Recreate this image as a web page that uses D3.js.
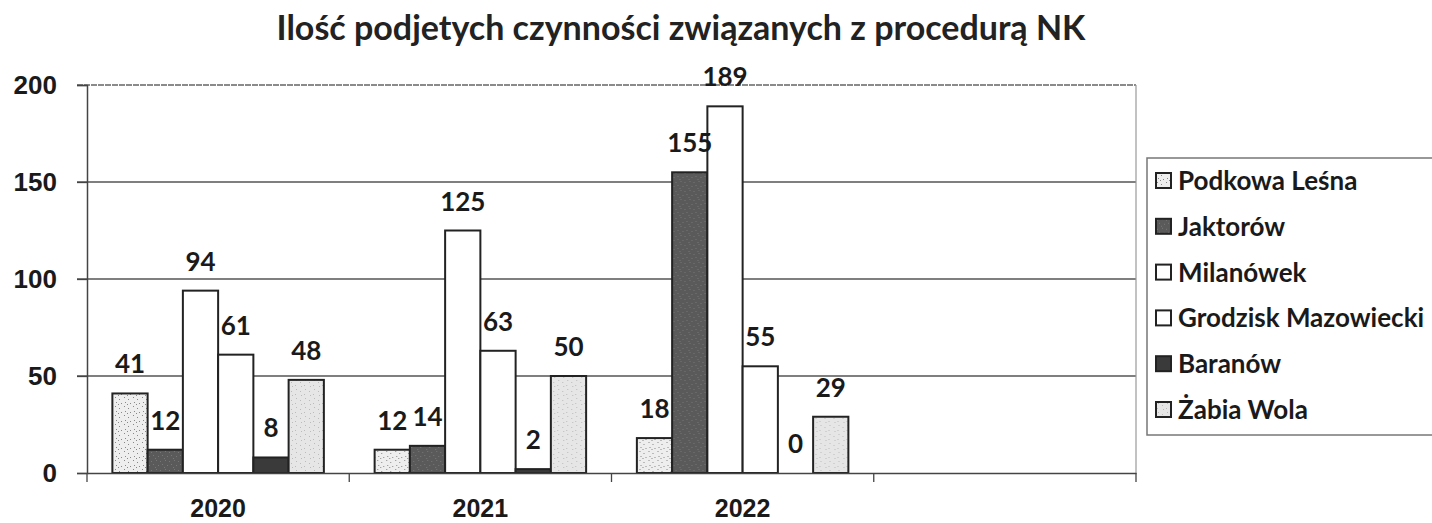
<!DOCTYPE html>
<html><head><meta charset="utf-8">
<script src="https://cdn.jsdelivr.net/npm/d3@7"></script>
<style>
html,body{margin:0;padding:0;background:#fff;}
svg{display:block;font-family:Lato,"Open Sans",sans-serif;}
</style></head>
<body><svg id="chart" width="1432" height="523"></svg>
<script>
const title = "Ilość podjetych czynności związanych z procedurą NK";
const categories = ["2020", "2021", "2022", ""];
const seriesNames = ["Podkowa Leśna", "Jaktorów", "Milanówek", "Grodzisk Mazowiecki", "Baranów", "Żabia Wola"];
const podkowaLesna = [41, 12, 18, null];
const jaktorow = [12, 14, 155, null];
const milanowek = [94, 125, 189, null];
const grodzisk = [61, 63, 55, null];
const baranow = [8, 2, 0, null];
const zabiaWola = [48, 50, 29, null];
const yTicks = [0, 50, 100, 150, 200];

const seriesValues = [podkowaLesna, jaktorow, milanowek, grodzisk, baranow, zabiaWola];
const fills = ["url(#pPodkowa)", "url(#pJaktorow)", "#ffffff", "#ffffff", "#3a3a3a", "url(#pZabia)"];

const svg = d3.select("#chart");
const m = {left: 87, right: 1136, top: 85, bottom: 473};

// patterns
const defs = svg.append("defs");
function speckle(id, bg, dot, pts) {
  const p = defs.append("pattern").attr("id", id).attr("patternUnits", "userSpaceOnUse")
    .attr("width", 9).attr("height", 9);
  p.append("rect").attr("width", 9).attr("height", 9).attr("fill", bg);
  pts.forEach(([x, y]) => p.append("rect").attr("x", x).attr("y", y).attr("width", 1).attr("height", 1).attr("fill", dot));
}
speckle("pPodkowa", "#eeeeee", "#888", [[1,1],[5,3],[2,6],[7,7],[4,8]]);
speckle("pJaktorow", "#5a5a5a", "#777", [[1,2],[6,1],[3,5],[8,6],[5,8]]);
speckle("pZabia", "#e6e6e6", "#bbb", [[2,2],[6,4],[1,7],[7,8]]);

const x0 = d3.scaleBand().domain(categories).range([m.left, m.right]).padding(0);
const x1 = d3.scaleBand().domain(seriesNames).range([0, x0.bandwidth()]).paddingInner(0).paddingOuter(0.72);
const y = d3.scaleLinear().domain([0, 200]).range([m.bottom, m.top]);

// gridlines
svg.append("g").selectAll("line").data(yTicks.filter(t => t > 0 && t < 200)).join("line")
  .attr("x1", m.left - 10).attr("x2", m.right).attr("y1", d => y(d)).attr("y2", d => y(d))
  .attr("stroke", "#555").attr("stroke-width", 1.3);
// top & right border
svg.append("line").attr("x1", m.left - 10).attr("x2", m.right).attr("y1", y(200)).attr("y2", y(200))
  .attr("stroke", "#666").attr("stroke-width", 1.5).attr("stroke-dasharray", "6,1");
svg.append("line").attr("x1", m.right).attr("x2", m.right).attr("y1", y(200)).attr("y2", m.bottom)
  .attr("stroke", "#999").attr("stroke-width", 1.2);

// y axis
const yAxis = d3.axisLeft(y).tickValues(yTicks).tickSize(10).tickPadding(20);
const ya = svg.append("g").attr("transform", `translate(${m.left},0)`).call(yAxis);
ya.select(".domain").attr("stroke", "#444").attr("stroke-width", 1.5);
ya.selectAll(".tick line").attr("stroke", "#444").attr("stroke-width", 1.3);
ya.selectAll("text").attr("font-size", 26).attr("font-weight", 700).attr("fill", "#1a1a1a");

// bars
const groups = svg.append("g").selectAll("g").data(categories).join("g")
  .attr("transform", d => `translate(${x0(d)},0)`);
groups.each(function(cat, ci) {
  const g = d3.select(this);
  const rows = seriesNames.map((s, si) => ({s, si, v: seriesValues[si][ci]})).filter(d => d.v !== null);
  g.selectAll("rect").data(rows).join("rect")
    .attr("x", d => x1(d.s)).attr("width", x1.bandwidth())
    .attr("y", d => y(d.v)).attr("height", d => y(0) - y(d.v))
    .attr("fill", d => fills[d.si]).attr("stroke", "#222").attr("stroke-width", 2);
  g.selectAll("text").data(rows).join("text")
    .attr("x", d => x1(d.s) + x1.bandwidth() / 2).attr("y", d => y(d.v) - 20)
    .attr("text-anchor", "middle").attr("font-size", 26).attr("font-weight", 700).attr("fill", "#1a1a1a")
    .text(d => d.v);
});

// x axis
const xAxis = d3.axisBottom(x0).tickSize(0).tickPadding(26);
const xa = svg.append("g").attr("transform", `translate(0,${m.bottom})`).call(xAxis);
xa.select(".domain").attr("stroke", "#444").attr("stroke-width", 1.5);
xa.selectAll("text").attr("font-size", 25).attr("font-weight", 700).attr("fill", "#1a1a1a");
svg.append("g").selectAll("line").data(categories.map(c => x0(c)).concat([m.right])).join("line")
  .attr("x1", d => d).attr("x2", d => d).attr("y1", m.bottom).attr("y2", m.bottom + 9)
  .attr("stroke", "#444").attr("stroke-width", 1.3);

// title
svg.append("text").attr("x", 681).attr("y", 40).attr("text-anchor", "middle")
  .attr("font-size", 34).attr("font-weight", 700).attr("fill", "#222").text(title);

// legend
const lg = svg.append("g");
lg.append("rect").attr("x", 1147).attr("y", 158).attr("width", 300).attr("height", 277)
  .attr("fill", "#fff").attr("stroke", "#777").attr("stroke-width", 1.5);
const li = lg.selectAll("g").data(seriesNames).join("g")
  .attr("transform", (d, i) => `translate(1156,${181 + i * 45.8})`);
li.append("rect").attr("x", 0).attr("y", -8).attr("width", 15).attr("height", 15)
  .attr("fill", (d, i) => fills[i]).attr("stroke", "#222").attr("stroke-width", 2);
li.append("text").attr("x", 22).attr("y", 9).attr("font-size", 26).attr("font-weight", 700)
  .attr("fill", "#1a1a1a").text(d => d);
</script>
</body></html>
